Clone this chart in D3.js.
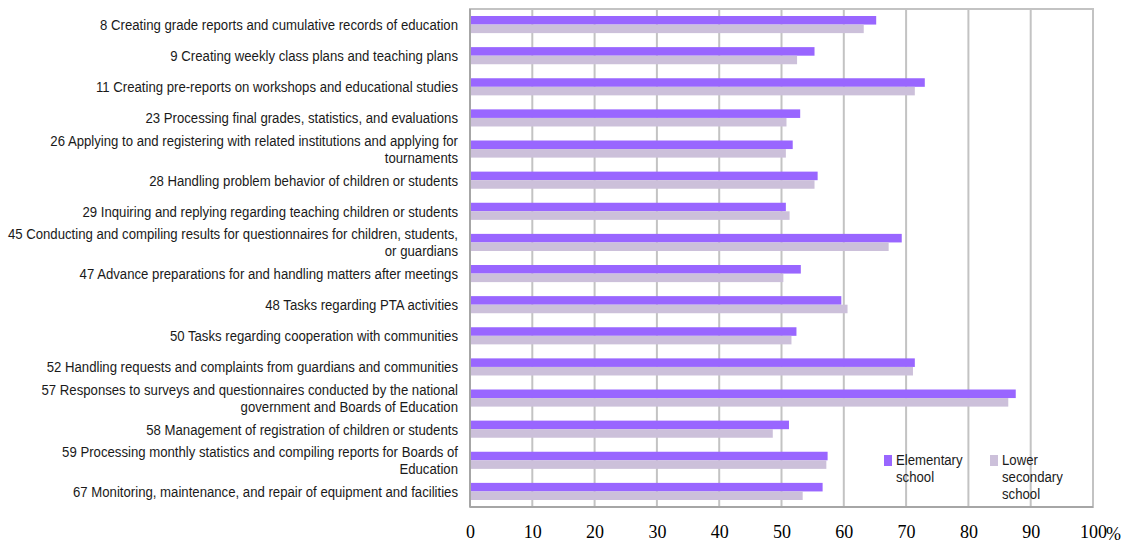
<!DOCTYPE html>
<html>
<head>
<meta charset="utf-8">
<script src="https://cdn.jsdelivr.net/npm/d3@7"></script>
<style>
  html, body { margin: 0; padding: 0; background: #ffffff; }
  svg { display: block; }
  .cat { font-family: "Liberation Sans", Arial, sans-serif; font-size: 15.5px; fill: #1a1a1a; }
  .tick-label { font-family: "Liberation Serif", "DejaVu Serif", serif; font-size: 18px; fill: #000; }
  .legend-text { font-family: "Liberation Sans", Arial, sans-serif; font-size: 15.5px; fill: #1a1a1a; }
</style>
</head>
<body>
<svg id="chart" width="1129" height="544"></svg>
<script>
const categories = [
  ["8 Creating grade reports and cumulative records of education"],
  ["9 Creating weekly class plans and teaching plans"],
  ["11 Creating pre-reports on workshops and educational studies"],
  ["23 Processing final grades, statistics, and evaluations"],
  ["26 Applying to and registering with related institutions and applying for", "tournaments"],
  ["28 Handling problem behavior of children or students"],
  ["29 Inquiring and replying regarding teaching children or students"],
  ["45 Conducting and compiling results for questionnaires for children, students,", "or guardians"],
  ["47 Advance preparations for and handling matters after meetings"],
  ["48 Tasks regarding PTA activities"],
  ["50 Tasks regarding cooperation with communities"],
  ["52 Handling requests and complaints from guardians and communities"],
  ["57 Responses to surveys and questionnaires conducted by the national", "government and Boards of Education"],
  ["58 Management of registration of children or students"],
  ["59 Processing monthly statistics and compiling reports for Boards of", "Education"],
  ["67 Monitoring, maintenance, and repair of equipment and facilities"]
];
const elementary = [65.2, 55.3, 73.0, 53.0, 51.8, 55.8, 50.7, 69.3, 53.1, 59.6, 52.4, 71.4, 87.6, 51.2, 57.4, 56.6];
const lowerSecondary = [63.2, 52.5, 71.4, 50.8, 50.7, 55.3, 51.3, 67.2, 50.3, 60.6, 51.6, 71.1, 86.4, 48.6, 57.2, 53.4];
const seriesNames = [["Elementary", "school"], ["Lower", "secondary", "school"]];
const xTicks = [0, 10, 20, 30, 40, 50, 60, 70, 80, 90, 100];
const xUnit = "%";

(function () {
const colors = ["#9966ff", "#ccc0da"];
const squeeze = 0.85; // emulate a narrow sans face

const svg = d3.select("#chart");
const pLeft = 470, pRight = 1093, pTop = 9, pBottom = 507;

const x = d3.scaleLinear().domain([0, 100]).range([pLeft, pRight]);
const y = d3.scaleBand().domain(d3.range(categories.length)).range([pTop, pBottom])
  .paddingInner(0.45).paddingOuter(0.225);
const ySub = d3.scaleBand().domain([0, 1]).range([0, y.bandwidth()]);

// plot frame
svg.append("rect").attr("x", pLeft).attr("y", pTop).attr("width", pRight - pLeft).attr("height", pBottom - pTop)
  .attr("fill", "none").attr("stroke", "#c3c3c3").attr("stroke-width", 2);

// gridlines
svg.append("g").selectAll("line").data(xTicks.filter(d => d > 0 && d < 100)).join("line")
  .attr("x1", d => x(d)).attr("x2", d => x(d)).attr("y1", pTop).attr("y2", pBottom)
  .attr("stroke", "#c3c3c3").attr("stroke-width", 2);

// bars
const series = [elementary, lowerSecondary];
series.forEach((vals, si) => {
  svg.append("g").selectAll("rect").data(vals).join("rect")
    .attr("x", x(0))
    .attr("y", (d, i) => y(i) + ySub(si))
    .attr("width", d => x(d) - x(0))
    .attr("height", ySub.bandwidth())
    .attr("fill", colors[si]);
});

// axes lines
svg.append("line").attr("x1", pLeft).attr("x2", pLeft).attr("y1", pTop).attr("y2", pBottom)
  .attr("stroke", "#a6a6a6").attr("stroke-width", 2);
svg.append("line").attr("x1", pLeft).attr("x2", pRight).attr("y1", pBottom).attr("y2", pBottom)
  .attr("stroke", "#a6a6a6").attr("stroke-width", 2);

// x tick labels
const xAxis = d3.axisBottom(x).tickValues(xTicks).tickSize(0).tickPadding(0).tickFormat(d3.format("d"));
const gx = svg.append("g").attr("transform", `translate(0, ${pBottom})`).call(xAxis);
gx.select(".domain").remove();
gx.attr("font-size", null).attr("font-family", null);
gx.selectAll("text").attr("class", "tick-label").attr("y", 25).attr("dy", "0.35em").attr("fill", "#000");
svg.append("text").attr("class", "tick-label").attr("x", x(100) + 13).attr("y", pBottom + 27)
  .attr("dy", "0.35em").attr("text-anchor", "start").text(xUnit);

// category labels
const lineH = 17;
const lab = svg.append("g").attr("transform", `translate(${pLeft - 12},0) scale(${squeeze},1)`);
categories.forEach((lines, i) => {
  const cy = y(i) + y.bandwidth() / 2;
  const t = lab.append("text").attr("class", "cat").attr("text-anchor", "end");
  lines.forEach((ln, j) => {
    t.append("tspan").attr("x", 0)
      .attr("y", cy + (j - (lines.length - 1) / 2) * lineH)
      .attr("dy", "0.35em").text(ln);
  });
});

// legend
const legendX = [884, 990];
seriesNames.forEach((lines, si) => {
  const g = svg.append("g");
  g.append("rect").attr("x", legendX[si]).attr("y", 455).attr("width", 8).attr("height", 11).attr("fill", colors[si]);
  const t = g.append("text").attr("class", "legend-text")
    .attr("transform", `translate(${legendX[si] + 12},0) scale(${squeeze},1)`);
  lines.forEach((ln, j) => {
    t.append("tspan").attr("x", 0).attr("y", 460 + j * 17).attr("dy", "0.35em").text(ln);
  });
});
})();
</script>
</body>
</html>
